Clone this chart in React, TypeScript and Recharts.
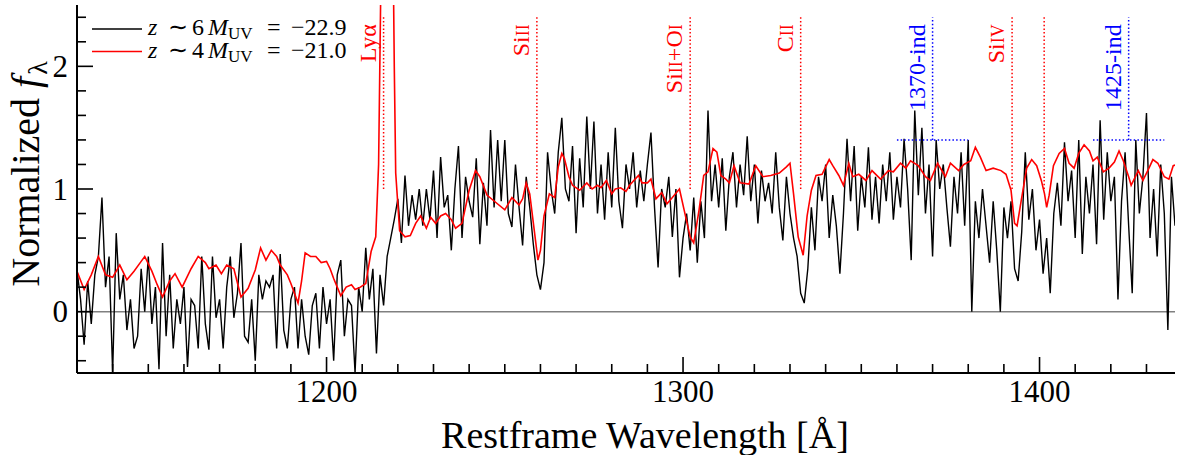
import React from 'react';
import { LineChart, Line, XAxis, YAxis, ReferenceLine } from 'recharts';

const X_DOMAIN = [1130, 1438];
const Y_DOMAIN = [-0.5, 2.5];

// z~6 stack: 1 Å grid starting at 1130 Å
const blackStart = 1130;
const blackFlux = [
  0.34, 0.1, -0.27, 0.25, -0.1, 0.3, 0.45, 0.93, 0.2, 0.45,
  -0.5, 0.64, 0.1, 0.3, -0.15, 0.1, -0.3, -0.2, 0.35, 0.0,
  0.45, -0.1, 0.2, -0.47, 0.56, -0.2, 0.3, -0.3, 0.1, -0.1,
  0.2, -0.45, 0.1, 0.05, -0.3, 0.45, -0.1, -0.31, 0.45, -0.05,
  0.1, -0.3, 0.2, 0.45, -0.05, 0.15, 0.56, -0.2, -0.25, 0.1,
  -0.4, 0.3, 0.1, 0.25, 0.2, 0.3, -0.3, 0.47, -0.15, -0.3,
  0.1, 0.2, -0.3, 0.1, -0.2, -0.35, 0.05, 0.15, -0.3, 0.2,
  -0.1, 0.1, -0.4, 0.3, 0.42, -0.2, 0.1, 0.05, -0.5, 0.2,
  0.0, 0.52, 0.1, 0.35, -0.34, 0.3, 0.05, 0.45, 0.6, 0.75,
  0.92, 0.56, 1.11, 0.7, 0.95, 0.75, 1.0, 0.7, 1.0, 0.75,
  1.15, 0.6, 1.26, 0.85, 0.95, 0.5, 1.0, 1.35, 0.6, 1.1,
  0.9, 0.77, 1.25, 0.55, 1.05, 0.7, 1.48, 0.85, 1.4, 0.9,
  1.4, 0.8, 0.69, 1.2, 0.85, 0.54, 1.1, 0.85, 0.55, 0.3,
  0.18, 0.4, 1.3, 1.0, 0.8, 1.3, 1.58, 1.0, 0.9, 1.35,
  0.64, 1.25, 0.85, 1.59, 1.0, 1.55, 0.8, 1.2, 0.75, 1.3,
  0.85, 1.5, 0.9, 0.68, 1.2, 1.0, 1.3, 0.85, 1.15, 0.9,
  1.2, 1.46, 0.85, 0.36, 1.0, 0.85, 1.1, 0.61, 1.0, 0.28,
  0.6, 0.8, 0.5, 0.93, 0.4, 0.9, 0.6, 1.64, 0.9, 1.2,
  0.85, 1.25, 0.66, 1.1, 1.3, 0.85, 1.2, 0.95, 1.43, 0.9,
  1.2, 0.72, 1.15, 0.9, 1.05, 0.8, 1.3, 0.85, 0.58, 1.1,
  0.8, 0.6, 0.45, 0.15, 0.07, 0.35, 0.85, 0.5, 1.1, 0.9,
  1.2, 0.6, 0.95, 0.7, 0.31, 0.8, 1.41, 0.9, 1.35, 0.66,
  1.1, 0.85, 1.34, 0.75, 1.1, 0.72, 1.2, 0.9, 1.3, 0.75,
  1.1, 0.85, 1.41, 1.0, 0.42, 1.64, 0.95, 1.5, 0.8, 1.2,
  0.45, 1.4, 1.0, 1.2, 0.85, 0.53, 1.1, 0.8, 1.3, 0.7,
  1.4, 0.0, 0.9, 0.6, 1.0, 0.7, 0.4, 0.9, 0.5, 0.0,
  0.85, 0.6, 0.9, 0.35, 0.25, 0.65, 1.3, 0.75, 1.0, 0.5,
  0.75, 0.31, 0.6, 0.15, 0.8, 1.05, 0.7, 1.38, 0.9, 1.15,
  0.6, 1.4, 0.47, 1.1, 0.8, 1.2, 0.55, 1.56, 0.75, 1.3,
  0.9, 1.1, 0.1, 0.9, 1.3, 0.7, 0.15, 1.4, 0.8, 1.1,
  1.62, 0.6, 1.0, 0.45, 1.2, 0.8, -0.15, 1.1, 0.7,
];

// z~4 stack
const redWave = [
  1130, 1132, 1134, 1136, 1138, 1140, 1142, 1144, 1146, 1148, 1149, 1151, 1152.5, 1154, 1156,
  1157.5, 1159.5, 1162, 1164, 1166, 1167, 1169, 1170.5, 1172, 1174, 1176, 1178, 1180, 1181.5,
  1183, 1184.5, 1186, 1187, 1189, 1190, 1192, 1193, 1194, 1195.5, 1197, 1198.5, 1200, 1201,
  1202, 1203, 1204, 1205.5, 1207, 1208, 1209.5, 1211, 1212.5, 1213.8, 1214.6, 1215.2, 1216,
  1217, 1218.3, 1219, 1219.4, 1220.5, 1222, 1223.5, 1225, 1226.4, 1228, 1229.2, 1230.6, 1232,
  1233.4, 1235, 1236.2, 1238, 1240, 1241.8, 1243, 1245, 1247.5, 1250, 1252, 1254, 1255, 1256,
  1257, 1258.7, 1259.3, 1260, 1261, 1262.5, 1264, 1265, 1266, 1266.7, 1268, 1269, 1271, 1273,
  1274.5, 1276, 1277, 1278.5, 1280, 1281, 1282.5, 1284, 1285, 1287.5, 1288.5, 1290, 1291,
  1292.4, 1294, 1295.5, 1297, 1299, 1300.3, 1302, 1303, 1304.5, 1305.8, 1307, 1308.4, 1309.5,
  1310.6, 1312, 1313, 1314.3, 1316, 1318.5, 1320.4, 1322.4, 1324.6, 1327, 1329, 1330, 1331,
  1332.3, 1333.7, 1334.8, 1336, 1337.3, 1339, 1341, 1342, 1343.7, 1345, 1346.5, 1347.6, 1349.3,
  1351.3, 1353, 1355.4, 1357.6, 1359, 1361, 1362.5, 1363.8, 1366, 1368, 1369.4, 1371.4, 1373.6,
  1375, 1377.3, 1378.8, 1380.7, 1382, 1383.4, 1385, 1387, 1389.2, 1390.6, 1392, 1393, 1393.7,
  1395, 1396.4, 1397.8, 1399.2, 1400.5, 1401.4, 1402, 1402.7, 1403.9, 1405.5, 1407, 1408.3,
  1409.7, 1411, 1412.5, 1414, 1415, 1416.2, 1417.9, 1419.5, 1421, 1422.3, 1423.5, 1425, 1425.7,
  1427.7, 1429, 1430.7, 1431.8, 1433.2, 1435, 1436.3, 1437.5, 1438.6,
];
const redFlux = [
  0.33, 0.18, 0.3, 0.45, 0.3, 0.28, 0.38, 0.26, 0.33, 0.41, 0.45, 0.33, 0.22, 0.12, 0.25,
  0.31, 0.2, 0.35, 0.45, 0.4, 0.35, 0.38, 0.31, 0.38, 0.35, 0.12, 0.19, 0.34, 0.52,
  0.42, 0.5, 0.45, 0.38, 0.3, 0.23, 0.07, 0.25, 0.48, 0.45, 0.45, 0.4, 0.41, 0.35,
  0.27, 0.2, 0.13, 0.2, 0.22, 0.18, 0.2, 0.23, 0.49, 0.61, 1.2, 2.6, 5.0,
  5.0, 4.0, 2.0, 1.13, 0.66, 0.61, 0.62, 0.72, 0.78, 0.68, 0.77, 0.72, 0.78,
  0.8, 0.75, 0.68, 0.72, 0.99, 1.15, 1.1, 0.95, 0.89, 0.83, 0.93, 0.87, 0.92, 1.05,
  0.96, 0.56, 0.42, 0.5, 0.78, 0.96, 0.93, 1.18, 1.29, 1.25, 1.1, 1.03, 0.99, 1.05,
  1.0, 1.03, 1.01, 1.07, 0.96, 1.0, 1.01, 0.98, 1.03, 1.11, 1.05, 1.05, 1.08,
  0.92, 0.97, 0.88, 0.93, 1.0, 0.83, 0.61, 0.56, 0.83, 1.11, 1.14, 1.33, 1.3,
  1.11, 1.08, 1.05, 1.19, 1.05, 1.04, 1.19, 1.1, 1.11, 1.13, 1.18, 1.21, 0.96,
  0.61, 0.46, 0.78, 0.99, 1.11, 1.12, 1.24, 1.19, 1.11, 1.03, 1.21, 1.1, 1.12,
  1.07, 1.15, 1.08, 1.15, 1.14, 1.21, 1.17, 1.23, 1.19, 1.1, 1.07, 1.21, 1.1,
  1.21, 1.15, 1.2, 1.23, 1.34, 1.26, 1.15, 1.17, 1.15, 1.12, 0.99, 0.72, 0.7,
  0.93, 1.17, 1.24, 1.19, 1.07, 0.96, 0.85, 0.95, 1.19, 1.29, 1.33, 1.21,
  1.17, 1.29, 1.36, 1.31, 1.23, 1.26, 1.14, 1.17, 1.22, 1.31, 1.23, 1.1, 1.03,
  1.15, 1.07, 1.17, 1.24, 1.21, 1.1, 1.08, 1.19, 1.2,
];

const xMajorTicks = [1200, 1300, 1400];
const xAllTicks = [
  1140, 1150, 1160, 1170, 1180, 1190, 1200, 1210, 1220, 1230, 1240, 1250, 1260, 1270, 1280,
  1290, 1300, 1310, 1320, 1330, 1340, 1350, 1360, 1370, 1380, 1390, 1400, 1410, 1420, 1430,
];
const yMajorTicks = [0, 1, 2];
const yAllTicks = [-0.4, -0.2, 0, 0.2, 0.4, 0.6, 0.8, 1, 1.2, 1.4, 1.6, 1.8, 2, 2.2, 2.4];

// spectral features: wavelength, label parts [text, smallcaps?]
const lineFeatures = [
  { w: 1216, parts: [['Lyα', false]] },
  { w: 1259, parts: [['Si', false], ['II', true]] },
  { w: 1302, parts: [['Si', false], ['II', true], ['+O', false], ['I', true]] },
  { w: 1333, parts: [['C', false], ['II', true]] },
  { w: 1392.3, parts: [['Si', false], ['IV', true]] },
  { w: 1401.3, parts: [] },
];
const indexFeatures = [
  { w: 1370, from: 1360, to: 1380, label: '1370-ind' },
  { w: 1425, from: 1415, to: 1435, label: '1425-ind' },
];
const FEATURE_LOW = 1.0;
const INDEX_LOW = 1.4;
const FEATURE_TOP = 2.4;

const legendItems = [
  { color: '#000000', z: '6', muv: '22.9' },
  { color: '#ff0000', z: '4', muv: '21.0' },
];

// layout
const CHART_W = 1178;
const CHART_H = 455;
const MARGIN = { top: 5, right: 3, bottom: 0, left: 0 };
const Y_AXIS_W = 77;
const X_AXIS_H = 82;
const PLOT_W = CHART_W - Y_AXIS_W - MARGIN.right;
const PLOT_H = CHART_H - MARGIN.top - X_AXIS_H;
const PLOT_BOTTOM = MARGIN.top + PLOT_H;
const PX_PER_X = PLOT_W / (X_DOMAIN[1] - X_DOMAIN[0]);
const PX_PER_Y = PLOT_H / (Y_DOMAIN[1] - Y_DOMAIN[0]);
const MINOR = 9;
const MAJOR = 16;

const SERIF = '"Liberation Serif", "Times New Roman", serif';
const RED = '#ff0000';
const BLUE = '#0000ff';

const blackData = blackFlux.map((f, i) => ({ w: blackStart + i, f }));
const redData = redWave.map((w, i) => ({ w, f: redFlux[i] }));

const xTickLabel = (value: number) => (props: any) => {
  const vb = props.viewBox || {};
  return (
    <text x={vb.x} y={PLOT_BOTTOM + 29} textAnchor="middle" fontSize={31} fontFamily={SERIF} fill="#000">
      {value}
    </text>
  );
};

const yTickLabel = (value: number) => (props: any) => {
  const vb = props.viewBox || {};
  return (
    <text x={Y_AXIS_W - 9} y={vb.y} dy="0.34em" textAnchor="end" fontSize={31} fontFamily={SERIF} fill="#000">
      {value}
    </text>
  );
};

const makeFeatureLabel = (parts: any[], color: string) => (props: any) => {
  const vb = props.viewBox || {};
  const tx = vb.x - 8;
  const ty = vb.y + 7;
  if (!parts.length) return null;
  return (
    <text x={tx} y={ty} transform={`rotate(-90, ${tx}, ${ty})`} textAnchor="end" fontSize={24} fontFamily={SERIF} fill={color}>
      {parts.map((p: any, i: number) => (
        <tspan key={i} fontSize={p[1] ? 18 : 24}>
          {p[0]}
        </tspan>
      ))}
    </text>
  );
};

const makeIndexLabel = (label: string) => (props: any) => {
  const vb = props.viewBox || {};
  const tx = vb.x - 8;
  const ty = vb.y + 7;
  return (
    <text x={tx} y={ty} transform={`rotate(-90, ${tx}, ${ty})`} textAnchor="end" fontSize={24} fontFamily={SERIF} fill={BLUE}>
      {label}
    </text>
  );
};

const XLabel = (props: any) => {
  const vb = props.viewBox || {};
  return (
    <text x={vb.x + vb.width / 2 + 19} y={448} textAnchor="middle" fontSize={38} fontFamily={SERIF} fill="#000">
      Restframe Wavelength [Å]
    </text>
  );
};

const YLabel = () => {
  const tx = 39;
  const ty = 174;
  return (
    <text x={tx} y={ty} transform={`rotate(-90, ${tx}, ${ty})`} textAnchor="middle" fontSize={40} fontFamily={SERIF} fill="#000">
      Normalized <tspan fontStyle="italic">f</tspan>
      <tspan fontSize={28} dx={2} dy={8}>λ</tspan>
    </text>
  );
};

// legend drawn as one small svg; columns follow the reference's mathtext spacing
const LegendBox = () => (
  <svg width={380} height={70} style={{ position: 'absolute', left: 0, top: 0, pointerEvents: 'none' }} fontFamily={SERIF}>
    {legendItems.map((it, i) => {
      const base = 35 + i * 22.5;
      return (
        <g key={it.z}>
          <line x1={92} x2={142} y1={base - 6} y2={base - 6} stroke={it.color} strokeWidth={1.5} />
          <text x={148} y={base} fontSize={24} fill="#000">
            <tspan fontStyle="italic">z</tspan>
            <tspan x={168}>∼</tspan>
            <tspan x={192}>{it.z}</tspan>
            <tspan x={208} fontStyle="italic">M</tspan>
            <tspan fontSize={17} dy={4}>UV</tspan>
            <tspan x={267} dy={-4}>=</tspan>
            <tspan x={291}>−{it.muv}</tspan>
          </text>
        </g>
      );
    })}
  </svg>
);

export default function App() {
  const x0 = X_DOMAIN[0];
  const y0 = Y_DOMAIN[0];
  return (
    <div style={{ position: 'absolute', left: 0, top: 0, width: CHART_W, height: CHART_H, background: '#fff' }}>
      <LineChart width={CHART_W} height={CHART_H} margin={MARGIN}>
        <XAxis dataKey="w" type="number" domain={X_DOMAIN} allowDataOverflow tick={false} tickLine={false}
          height={X_AXIS_H} axisLine={{ stroke: '#000', strokeWidth: 2 }} label={XLabel} />
        <XAxis xAxisId="top" orientation="top" dataKey="w" type="number" domain={X_DOMAIN} allowDataOverflow
          height={0} tick={false} tickLine={false} axisLine={{ stroke: '#000', strokeWidth: 2 }} />
        <YAxis type="number" domain={Y_DOMAIN} allowDataOverflow tick={false} tickLine={false}
          width={Y_AXIS_W} axisLine={{ stroke: '#000', strokeWidth: 2 }} label={YLabel} />
        <YAxis yAxisId="right" orientation="right" type="number" domain={Y_DOMAIN} allowDataOverflow
          width={0} tick={false} tickLine={false} axisLine={{ stroke: '#000', strokeWidth: 2 }} />
        <ReferenceLine y={0} stroke="#808080" strokeWidth={1.5} />
        <Line data={blackData} dataKey="f" type="linear" stroke="#000" strokeWidth={1.4} dot={false} isAnimationActive={false} />
        <Line data={redData} dataKey="f" type="linear" stroke={RED} strokeWidth={1.6} dot={false} isAnimationActive={false} />
        {xAllTicks.map((t) => {
          const major = xMajorTicks.includes(t);
          return (
            <ReferenceLine
              key={'xt' + t}
              ifOverflow="visible"
              segment={[
                { x: t, y: y0 },
                { x: t, y: y0 + (major ? MAJOR : MINOR) / PX_PER_Y },
              ]}
              stroke="#000"
              strokeWidth={1.6}
              label={major ? xTickLabel(t) : undefined}
            />
          );
        })}
        {yAllTicks.map((t) => {
          const major = yMajorTicks.includes(t);
          return (
            <ReferenceLine
              key={'yt' + t}
              ifOverflow="visible"
              segment={[
                { x: x0, y: t },
                { x: x0 + (major ? MAJOR : MINOR) / PX_PER_X, y: t },
              ]}
              stroke="#000"
              strokeWidth={1.6}
              label={major ? yTickLabel(t) : undefined}
            />
          );
        })}
        {lineFeatures.map((f) => (
          <ReferenceLine key={'f' + f.w} segment={[{ x: f.w, y: FEATURE_LOW }, { x: f.w, y: FEATURE_TOP }]}
            stroke={RED} strokeWidth={1.5} strokeDasharray="1.5 2.2" label={makeFeatureLabel(f.parts, RED)} />
        ))}
        {indexFeatures.map((f) => (
          <ReferenceLine key={'v' + f.w} segment={[{ x: f.w, y: INDEX_LOW }, { x: f.w, y: FEATURE_TOP }]}
            stroke={BLUE} strokeWidth={1.5} strokeDasharray="1.5 2.2" label={makeIndexLabel(f.label)} />
        ))}
        {indexFeatures.map((f) => (
          <ReferenceLine key={'h' + f.w} segment={[{ x: f.from, y: INDEX_LOW }, { x: f.to, y: INDEX_LOW }]}
            stroke={BLUE} strokeWidth={1.5} strokeDasharray="1.5 2.2" />
        ))}
      </LineChart>
      <LegendBox />
    </div>
  );
}
